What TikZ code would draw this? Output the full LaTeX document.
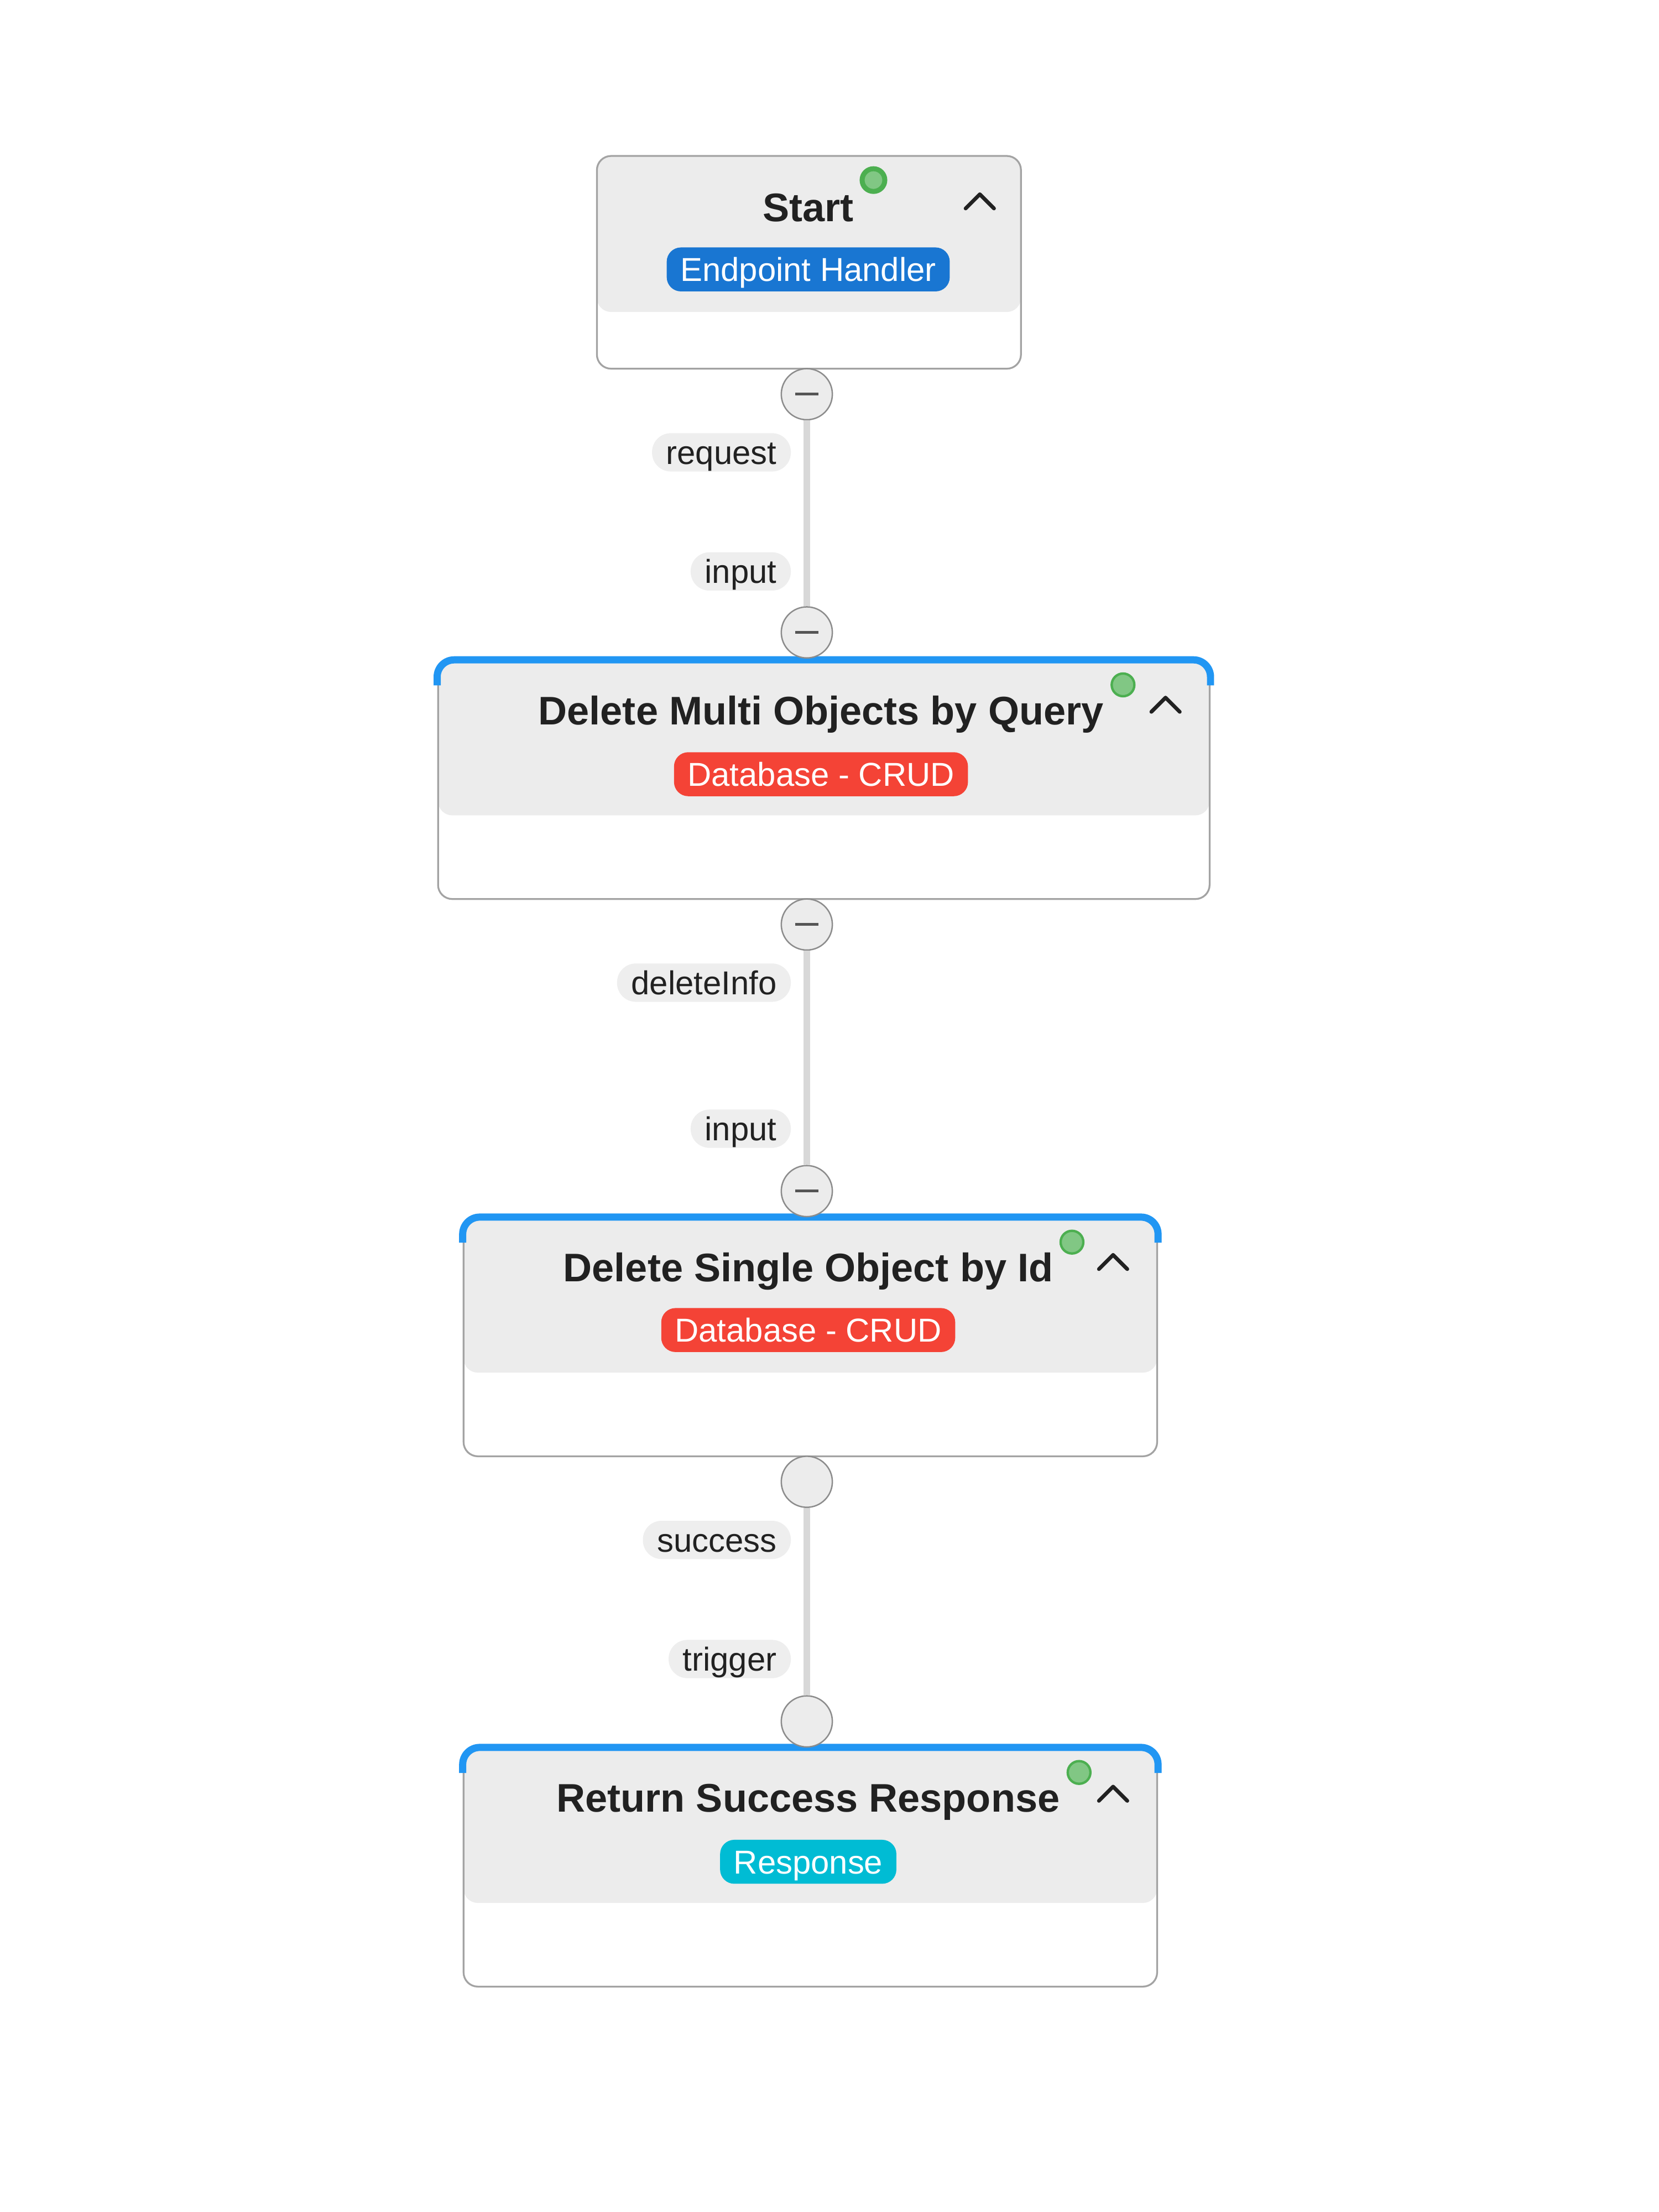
\documentclass[tikz,border=0pt]{standalone}
\usepackage{fontspec}
\setmainfont{Liberation Sans}
\usetikzlibrary{positioning}

\definecolor{ink}{HTML}{212121}
\definecolor{hdrgray}{HTML}{ECECEC}
\definecolor{edgegray}{HTML}{A3A3A3}
\definecolor{portedge}{HTML}{8C8C8C}
\definecolor{minusgray}{HTML}{555555}
\definecolor{wiregray}{HTML}{D8D8D8}
\definecolor{pillgray}{HTML}{EEEEEE}
\definecolor{topblue}{HTML}{2196F3}
\definecolor{tagblue}{HTML}{1976D2}
\definecolor{tagred}{HTML}{F44336}
\definecolor{tagcyan}{HTML}{00BCD4}
\definecolor{dotgreen}{HTML}{4CAF50}
\definecolor{dotfill}{HTML}{81C784}

\begin{document}
\begin{tikzpicture}[x=0.025cm, y=-0.025cm,
  card/.style={draw=edgegray, line width=0.9pt, fill=white, rounded corners=0.25cm, inner sep=0},
  header/.style={path picture={\fill[hdrgray] (path picture bounding box.north west) rectangle ([yshift=#1]path picture bounding box.south east);}},
  topedge/.style={draw=topblue, line width=3.6pt, rounded corners=0.3cm},
  title/.style={font=\fontsize{20}{24}\selectfont\bfseries, text=ink, anchor=base, inner sep=0},
  tag/.style={text=white, rounded corners=0.25cm, minimum height=0.775cm, inner xsep=0.24cm, inner ysep=0,
    text height=15pt, text depth=3.1pt, font=\fontsize{16.6}{20}\selectfont},
  pill/.style={fill=pillgray, text=ink, rounded corners=0.33cm, minimum height=0.675cm, inner xsep=0.25cm, inner ysep=0,
    text height=15pt, text depth=3.1pt, font=\fontsize{16.6}{20}\selectfont, anchor=east},
  statusdot/.style={circle, fill=dotfill, draw=dotgreen, line width=1.2pt, minimum size=0.4cm, inner sep=0},
  port/.style={circle, draw=portedge, fill=hdrgray, line width=0.7pt, minimum size=0.9cm, inner sep=0},
  portminus/.style={port, path picture={\draw[minusgray, line width=1.4pt] ([xshift=-0.2cm]path picture bounding box.center) -- ([xshift=0.2cm]path picture bounding box.center);}},
  wire/.style={draw=wiregray, line width=3.5pt},
  fold/.pic={\draw[ink, line width=1.9pt, line cap=round, line join=round] (-10,5) -- (0,-5) -- (10,5);}
]
\fill[white] (0,0) rectangle (1170,1560);
\useasboundingbox (0,0) rectangle (1170,1560);

% start block
\node[card, header=1cm, minimum width=7.475cm, minimum height=3.75cm] (start) at (570.5,185) {};
\node[title] (starttitle) at (570,156) {Start};
\node[statusdot, line width=2.5pt] (startdot) at (616,127) {};
\pic at (691,142) {fold};
\node[tag, fill=tagblue] (starttag) at (570,190) {Endpoint Handler};

% delete multi block
\node[card, header=1.475cm, minimum width=13.6cm, minimum height=4.2cm] (multi) at (581,550) {};
\draw[topedge] ([yshift=-0.45cm]multi.north west) -- (multi.north west) -- (multi.north east) -- ([yshift=-0.45cm]multi.north east);
\node[title] (multititle) at (579,511) {Delete Multi Objects by Query};
\node[statusdot] (multidot) at (792,483) {};
\pic at (822,497) {fold};
\node[tag, fill=tagred] (multitag) at (579,546) {Database - CRUD};

% delete single block
\node[card, header=1.475cm, minimum width=12.225cm, minimum height=4.2cm] (single) at (571.5,943) {};
\draw[topedge] ([yshift=-0.45cm]single.north west) -- (single.north west) -- (single.north east) -- ([yshift=-0.45cm]single.north east);
\node[title] (singletitle) at (570,904) {Delete Single Object by Id};
\node[statusdot] (singledot) at (756,876) {};
\pic at (785,890) {fold};
\node[tag, fill=tagred] (singletag) at (570,938) {Database - CRUD};

% response block
\node[card, header=1.475cm, minimum width=12.225cm, minimum height=4.2cm] (reply) at (571.5,1317) {};
\draw[topedge] ([yshift=-0.45cm]reply.north west) -- (reply.north west) -- (reply.north east) -- ([yshift=-0.45cm]reply.north east);
\node[title] (replytitle) at (570,1278) {Return Success Response};
\node[statusdot] (replydot) at (761,1250) {};
\pic at (785,1265) {fold};
\node[tag, fill=tagcyan] (replytag) at (570,1313) {Response};

% ports
\node[portminus] (startout) at (569,278) {};
\node[portminus] (multiin) at (569,446) {};
\node[portminus] (multiout) at (569,652) {};
\node[portminus] (singlein) at (569,840) {};
\node[port] (singleout) at (569,1045) {};
\node[port] (replyin) at (569,1214) {};

% wires
\draw[wire] (startout) -- (multiin);
\draw[wire] (multiout) -- (singlein);
\draw[wire] (singleout) -- (replyin);

% port labels
\node[pill] (requestlbl) at (558,319) {request};
\node[pill] (multiinlbl) at (558,403) {input};
\node[pill] (deletelbl) at (558,693) {deleteInfo};
\node[pill] (singleinlbl) at (558,796) {input};
\node[pill] (successlbl) at (558,1086) {success};
\node[pill] (triggerlbl) at (558,1170) {trigger};
\end{tikzpicture}
\end{document}
